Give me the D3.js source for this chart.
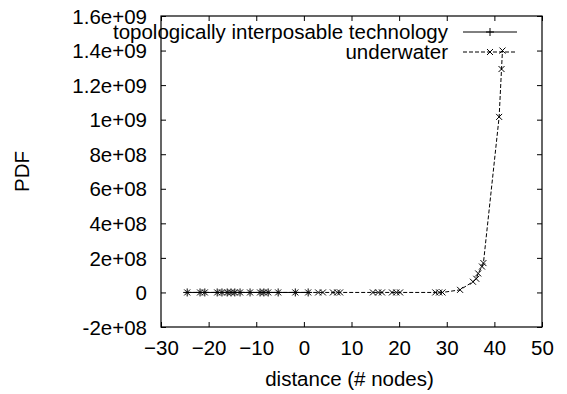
<!DOCTYPE html>
<meta charset="utf-8">
<script src="https://d3js.org/d3.v7.min.js"></script>
<style>
  body { margin: 0; background: #fff; }
  text { font-family: "Liberation Sans", Arial, sans-serif; }
</style>
<div id="chart"></div>
<script>
// data
var seriesNames = ["topologically interposable technology", "underwater"];
var techX = [-24.5, -21.8, -20.8, -18.2, -17.2, -16.1, -15.3, -14.5, -13.4, -11.3, -9.2, -8.4, -7.5, -5.4, -1.8, 0.9];
var techY = [0, 0, 0, 0, 0, 0, 0, 0, 0, 0, 0, 0, 0, 0, 0, 0];
var waterX = [-24.5, -21.8, -20.8, -18.2, -17.2, -16.1, -15.3, -14.5, -13.4, -11.3, -9.2, -8.4, -7.5, -5.4, -1.8, 0.9,
  3.0, 4.0, 6.1, 7.0, 7.6, 14.5, 15.6, 16.4, 18.5, 19.4, 20.2, 27.6, 28.4, 29.1,
  32.8, 35.5, 36.2, 36.6, 37.4, 37.7, 41.0, 41.5, 41.7];
var waterY = [0, 0, 0, 0, 0, 0, 0, 0, 0, 0, 0, 0, 0, 0, 0, 0,
  0, 0, 0, 0, 0, 0, 0, 0, 0, 0, 0, 0, 0, 0,
  1.5e7, 6.2e7, 7.9e7, 1.1e8, 1.5e8, 1.7e8, 1.016e9, 1.293e9, 1.40e9];
var xTicks = [-30, -20, -10, 0, 10, 20, 30, 40, 50];
var yTicks = [-2e8, 0, 2e8, 4e8, 6e8, 8e8, 1e9, 1.2e9, 1.4e9, 1.6e9];

var W = 567, H = 394;
var margin = { top: 16, right: 25, bottom: 67, left: 161 },
    width = W - margin.left - margin.right,
    height = H - margin.top - margin.bottom;

var svg = d3.select("#chart").append("svg")
    .attr("width", W).attr("height", H);
var g = svg.append("g")
    .attr("transform", "translate(" + margin.left + "," + margin.top + ")");

var x = d3.scaleLinear().domain([-30, 50]).range([0, width]);
var y = d3.scaleLinear().domain([-2e8, 1.6e9]).range([height, 0]);

// gnuplot style exponent labels
function fmtY(d) {
  if (d === 0) return "0";
  var s = d.toExponential();
  return s.replace(/e([+-])(\d)$/, "e$10$2");
}

var fs = "20.5px";

// axes: ticks pointing inwards on all sides
var ax = g.append("g").attr("transform", "translate(0," + height + ")")
    .call(d3.axisBottom(x).tickValues(xTicks).tickSizeInner(-5).tickSizeOuter(0).tickPadding(13));
var axTop = g.append("g")
    .call(d3.axisTop(x).tickValues(xTicks).tickSizeInner(-5).tickSizeOuter(0).tickFormat(""));
var ay = g.append("g")
    .call(d3.axisLeft(y).tickValues(yTicks).tickFormat(fmtY).tickSizeInner(-5).tickSizeOuter(0).tickPadding(14));
var ayR = g.append("g").attr("transform", "translate(" + width + ",0)")
    .call(d3.axisRight(y).tickValues(yTicks).tickSizeInner(-5).tickSizeOuter(0).tickFormat(""));
[ax, axTop, ay, ayR].forEach(function (a) {
  a.select(".domain").remove();
  a.selectAll("line").attr("stroke", "#000");
  a.selectAll("text").style("font-size", fs).attr("fill", "#000")
    .style("font-family", "'Liberation Sans', Arial, sans-serif");
});
ay.selectAll("text").attr("dy", "0.35em");

g.append("rect").attr("width", width).attr("height", height)
    .attr("fill", "none").attr("stroke", "#000").attr("stroke-width", 1.2);

// axis titles
svg.append("text").attr("x", margin.left + width / 2 - 2).attr("y", 386)
    .attr("text-anchor", "middle").style("font-size", fs).text("distance (# nodes)");
svg.append("text").attr("transform", "translate(29," + (margin.top + height / 2) + ") rotate(-90)")
    .attr("text-anchor", "middle").style("font-size", fs).text("PDF");

var line = d3.line().x(function (d) { return x(d[0]); }).y(function (d) { return y(d[1]); });
var tech = techX.map(function (v, i) { return [v, techY[i]]; });
var water = waterX.map(function (v, i) { return [v, waterY[i]]; });

function plus(px, py, r) {
  return "M" + (px - r) + "," + py + "H" + (px + r) + "M" + px + "," + (py - r) + "V" + (py + r);
}
function cross(px, py, r) {
  return "M" + (px - r) + "," + (py - r) + "L" + (px + r) + "," + (py + r) +
         "M" + (px - r) + "," + (py + r) + "L" + (px + r) + "," + (py - r);
}

// underwater: dashed with x markers
g.append("path").datum(water).attr("d", line).attr("fill", "none")
    .attr("stroke", "#000").attr("stroke-dasharray", "4,2");
g.selectAll(".wm").data(water).enter().append("path")
    .attr("d", function (d) { return cross(x(d[0]), y(d[1]), 3); })
    .attr("stroke", "#000").attr("fill", "none");

// tech: solid with + markers
g.append("path").datum(tech).attr("d", line).attr("fill", "none").attr("stroke", "#000");
g.selectAll(".tm").data(tech).enter().append("path")
    .attr("d", function (d) { return plus(x(d[0]), y(d[1]), 4); })
    .attr("stroke", "#000").attr("fill", "none");

// legend
var leg = svg.append("g");
var legRows = [32, 52];
seriesNames.forEach(function (name, i) {
  var ly = legRows[i];
  leg.append("text").attr("x", 448).attr("y", ly).attr("dy", "0.35em")
      .attr("text-anchor", "end").style("font-size", fs).text(name);
  leg.append("line").attr("x1", 463).attr("x2", 517).attr("y1", ly).attr("y2", ly)
      .attr("stroke", "#000").attr("stroke-dasharray", i === 1 ? "4,2" : null);
  leg.append("path")
      .attr("d", i === 0 ? plus(490, ly, 4) : cross(490, ly, 3))
      .attr("stroke", "#000").attr("fill", "none");
});
</script>
